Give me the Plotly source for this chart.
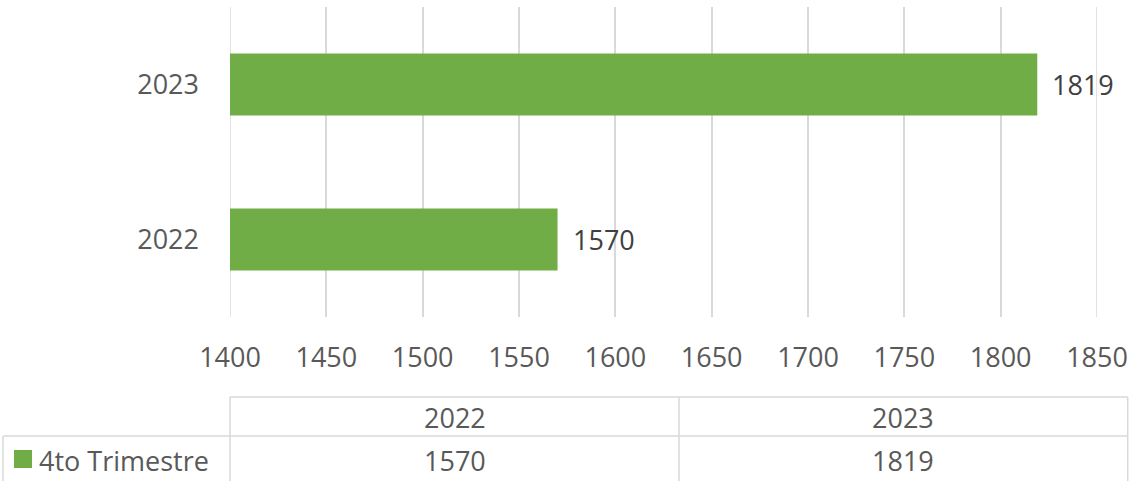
import plotly.graph_objects as go

categories = ["2022", "2023"]
values = [1570, 1819]
series_name = "4to Trimestre"
x_ticks = [1400, 1450, 1500, 1550, 1600, 1650, 1700, 1750, 1800, 1850]

W, H = 1130, 481
L, R, T, B = 230, 1097, 7, 317
BAR = "#70AD47"
GRID = "#D9D9D9"
AX = "#595959"
LBL = "#404040"
FONT = "Open Sans"


def px(x):
    return (x - L) / (R - L)


def py(y):
    return (B - y) / (B - T)


fig = go.Figure()
fig.add_trace(go.Bar(
    y=categories, x=values, orientation="h", width=0.4,
    marker=dict(color=BAR, line=dict(width=0)), name=series_name,
    showlegend=False, hoverinfo="skip"
))

annotations = []
for i, v in enumerate(values):
    annotations.append(dict(x=v, y=i, xref="x", yref="y", text=str(v),
                            showarrow=False, xanchor="left", yanchor="middle",
                            xshift=13, font=dict(family=FONT, size=27, color=LBL)))

shapes = []
line = dict(color=GRID, width=1.5)
# edge gridlines (plotly omits them at the range boundaries)
for xv in (x_ticks[0], x_ticks[-1]):
    shapes.append(dict(type="line", xref="x", yref="paper", x0=xv, x1=xv, y0=0, y1=1,
                       line=line, layer="below"))

# data table
col_edges = [230, 679, 1127.7]
row_top, row_sep, row_bot = 397, 436, 485
shapes.append(dict(type="line", xref="paper", yref="paper", x0=px(col_edges[0]), x1=px(col_edges[-1]),
                   y0=py(row_top), y1=py(row_top), line=line))
shapes.append(dict(type="line", xref="paper", yref="paper", x0=px(3), x1=px(col_edges[-1]),
                   y0=py(row_sep), y1=py(row_sep), line=line))
for xe in col_edges:
    shapes.append(dict(type="line", xref="paper", yref="paper", x0=px(xe), x1=px(xe),
                       y0=py(row_top), y1=py(row_bot), line=line))
shapes.append(dict(type="line", xref="paper", yref="paper", x0=px(3), x1=px(3),
                   y0=py(row_sep), y1=py(row_bot), line=line))
# legend key
shapes.append(dict(type="rect", xref="paper", yref="paper", x0=px(14), x1=px(32),
                   y0=py(468), y1=py(450), fillcolor=BAR, line=dict(width=0)))

for i, (c, v) in enumerate(zip(categories, values)):
    cx = (col_edges[i] + col_edges[i + 1]) / 2
    annotations.append(dict(x=px(cx), y=py(417), xref="paper", yref="paper", text=c,
                            showarrow=False, xanchor="center", yanchor="middle",
                            font=dict(family=FONT, size=27, color=AX)))
    annotations.append(dict(x=px(cx), y=py(460), xref="paper", yref="paper", text=str(v),
                            showarrow=False, xanchor="center", yanchor="middle",
                            font=dict(family=FONT, size=27, color=AX)))
annotations.append(dict(x=px(37), y=py(460), xref="paper", yref="paper", text=series_name,
                        showarrow=False, xanchor="left", yanchor="middle",
                        font=dict(family=FONT, size=27, color=AX)))

fig.update_layout(
    width=W, height=H,
    margin=dict(l=L, r=W - R, t=T, b=H - B, pad=0, autoexpand=False),
    paper_bgcolor="white", plot_bgcolor="white",
    font=dict(family=FONT, size=27, color=AX),
    bargap=0.6,
    xaxis=dict(range=[1400, 1850], tickvals=x_ticks, showgrid=True, gridcolor=GRID, gridwidth=1.5,
               zeroline=False, showline=False, ticks="", ticklabelstandoff=22,
               ticklabeloverflow="allow", automargin=False,
               tickfont=dict(family=FONT, size=27, color=AX), fixedrange=True),
    yaxis=dict(type="category", categoryorder="array", categoryarray=categories,
               showgrid=False, zeroline=False, showline=False, ticks="", ticklabelstandoff=30,
               automargin=False,
               tickfont=dict(family=FONT, size=27, color=AX), range=[-0.5, 1.5], fixedrange=True),
    shapes=shapes, annotations=annotations,
)

fig.write_html("out.html", config={"displayModeBar": False},
               post_script="document.body.style.margin='0';document.body.style.overflow='hidden';")
